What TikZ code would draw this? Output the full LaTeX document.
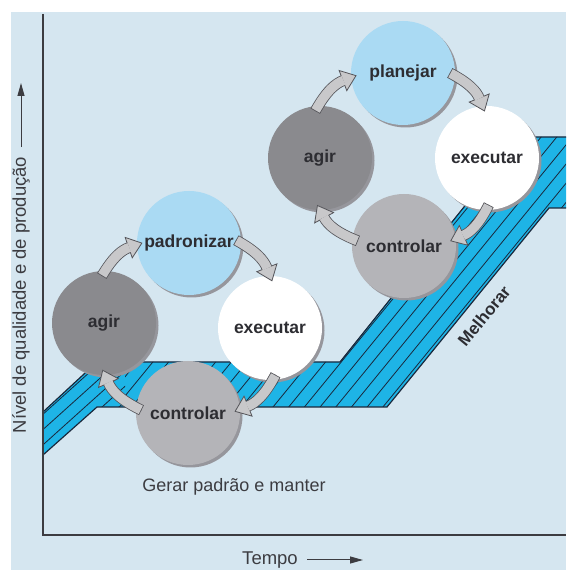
\documentclass[tikz,border=0pt]{standalone}
\usepackage{fontspec}
\setmainfont{Liberation Sans}
\usetikzlibrary{arrows.meta,shadows}
\definecolor{bg-color}{RGB}{213,230,240}
\definecolor{band-color}{RGB}{30,180,230}
\definecolor{band-line}{RGB}{25,40,60}
\definecolor{plan-color}{RGB}{170,218,243}
\definecolor{act-color}{RGB}{138,138,142}
\definecolor{check-color}{RGB}{180,180,184}
\definecolor{shadow-color}{RGB}{150,150,156}
\definecolor{arrow-fill}{RGB}{200,200,202}
\definecolor{arrow-edge}{RGB}{85,85,90}
\definecolor{text-color}{RGB}{45,45,50}
\definecolor{axis-color}{RGB}{60,60,65}

\begin{document}
\begin{tikzpicture}[x=1pt,y=1pt,
    stepcircle/.style={circle, minimum size=104pt, inner sep=0pt, text=text-color,
        font=\bfseries\fontsize{17.5}{20}\selectfont,
        drop shadow={shadow xshift=2.5pt, shadow yshift=-2.5pt, fill=shadow-color, opacity=1}},
    hatch/.style={draw=band-line, line width=0.8pt},
    arrowshaft/.style={draw=arrow-edge, line width=11pt, shorten <=-6pt, shorten >=8pt},
    arrowhead/.style={draw=arrow-edge, line width=0.8pt, shorten <=-6pt, shorten >=-6pt,
        -{Triangle[length=15pt,width=23pt,fill=arrow-fill]}},
    arrowcore/.style={draw=arrow-fill, line width=9.4pt, shorten <=-5.2pt, shorten >=8pt},
    axislabel/.style={text=axis-color, font=\fontsize{18.5}{21}\selectfont},
    axisarrow/.style={draw=axis-color, line width=1pt, -{Triangle[length=13pt,width=7pt]}}]
    \useasboundingbox (0,0) rectangle (566,570);
    \fill[white] (0,0) rectangle (566,570);
    \fill[bg-color] (11,0) rectangle (566,558);

    % band
    \fill[band-color] (43,158) -- (97,208) -- (340,208) -- (520,433) -- (566,433) -- (566,362)
        -- (549,362) -- (387,163) -- (97,163) -- (43,115) -- cycle;
    \begin{scope}
        \clip (43,158) -- (97,208) -- (340,208) -- (520,433) -- (566,433) -- (566,362)
            -- (549,362) -- (387,163) -- (97,163) -- (43,115) -- cycle;
        \begin{scope}
            \clip (0,0) rectangle (125,570);
            \foreach \i in {0,...,30}
                \draw[hatch] (\i*17-300,0) -- ++(42:700);
        \end{scope}
        \begin{scope}
            \clip (125,0) rectangle (566,570);
            \foreach \i in {0,...,60}
                \draw[hatch] (\i*15.7-300,0) -- ++(50.7:800);
        \end{scope}
    \end{scope}
    \draw[band-line, line width=1.2pt, line join=miter] (43,158) -- (97,208) -- (340,208) -- (520,433)
        -- (566,433) (566,362) -- (549,362) -- (387,163) -- (97,163) -- (43,115);

    % axes
    \coordinate (origin) at (43,35);
    \coordinate (ytop) at (43,556);
    \coordinate (xend) at (566,35);
    \draw[axis-color, line width=1.5pt] (ytop) -- (origin) -- (xend);

    \node[axislabel, rotate=90] (ylabel) at (21,275) {Nível de qualidade e de produção};
    \coordinate (ytip) at (21,487);
    \draw[axisarrow] ([yshift=6pt]ylabel.east) -- (ytip);
    \node[axislabel] (xlabel) at (270,10) {Tempo};
    \coordinate (xtip) at (363,10);
    \draw[axisarrow] ([xshift=6pt]xlabel.east) -- (xtip);

    % SDCA
    \node[stepcircle, fill=plan-color] (sdca-s) at (189,327) {padronizar};
    \node[stepcircle, fill=white] (sdca-d) at (270,242) {executar};
    \node[stepcircle, fill=check-color] (sdca-c) at (188,157) {controlar};
    \node[stepcircle, fill=act-color] (sdca-a) at (104,247) {agir};

    % PDCA
    \node[stepcircle, fill=plan-color] (pdca-p) at (403,497) {planejar};
    \node[stepcircle, fill=white] (pdca-d) at (487,412) {executar};
    \node[stepcircle, fill=check-color] (pdca-c) at (404,324) {controlar};
    \node[stepcircle, fill=act-color] (pdca-a) at (320,412) {agir};

    \foreach \from/\to in {pdca-a.92/pdca-p.185, pdca-p.357/pdca-d.95, pdca-d.269/pdca-c.8,
            pdca-c.172/pdca-a.270, sdca-a.89/sdca-s.182, sdca-s.0/sdca-d.90,
            sdca-d.273/sdca-c.4, sdca-c.174/sdca-a.271} {
        \draw[arrowshaft] (\from) to[bend left=20] (\to);
        \draw[arrowhead] (\from) to[bend left=20] (\to);
        \draw[arrowcore] (\from) to[bend left=20] (\to);
    }

    \node[rotate=50.7, text=text-color, font=\bfseries\fontsize{17}{20}\selectfont] (melhorar) at (484,254) {Melhorar};
    \node[text=axis-color, font=\fontsize{18}{21}\selectfont] (gerar) at (234,83) {Gerar padrão e manter};
\end{tikzpicture}
\end{document}
